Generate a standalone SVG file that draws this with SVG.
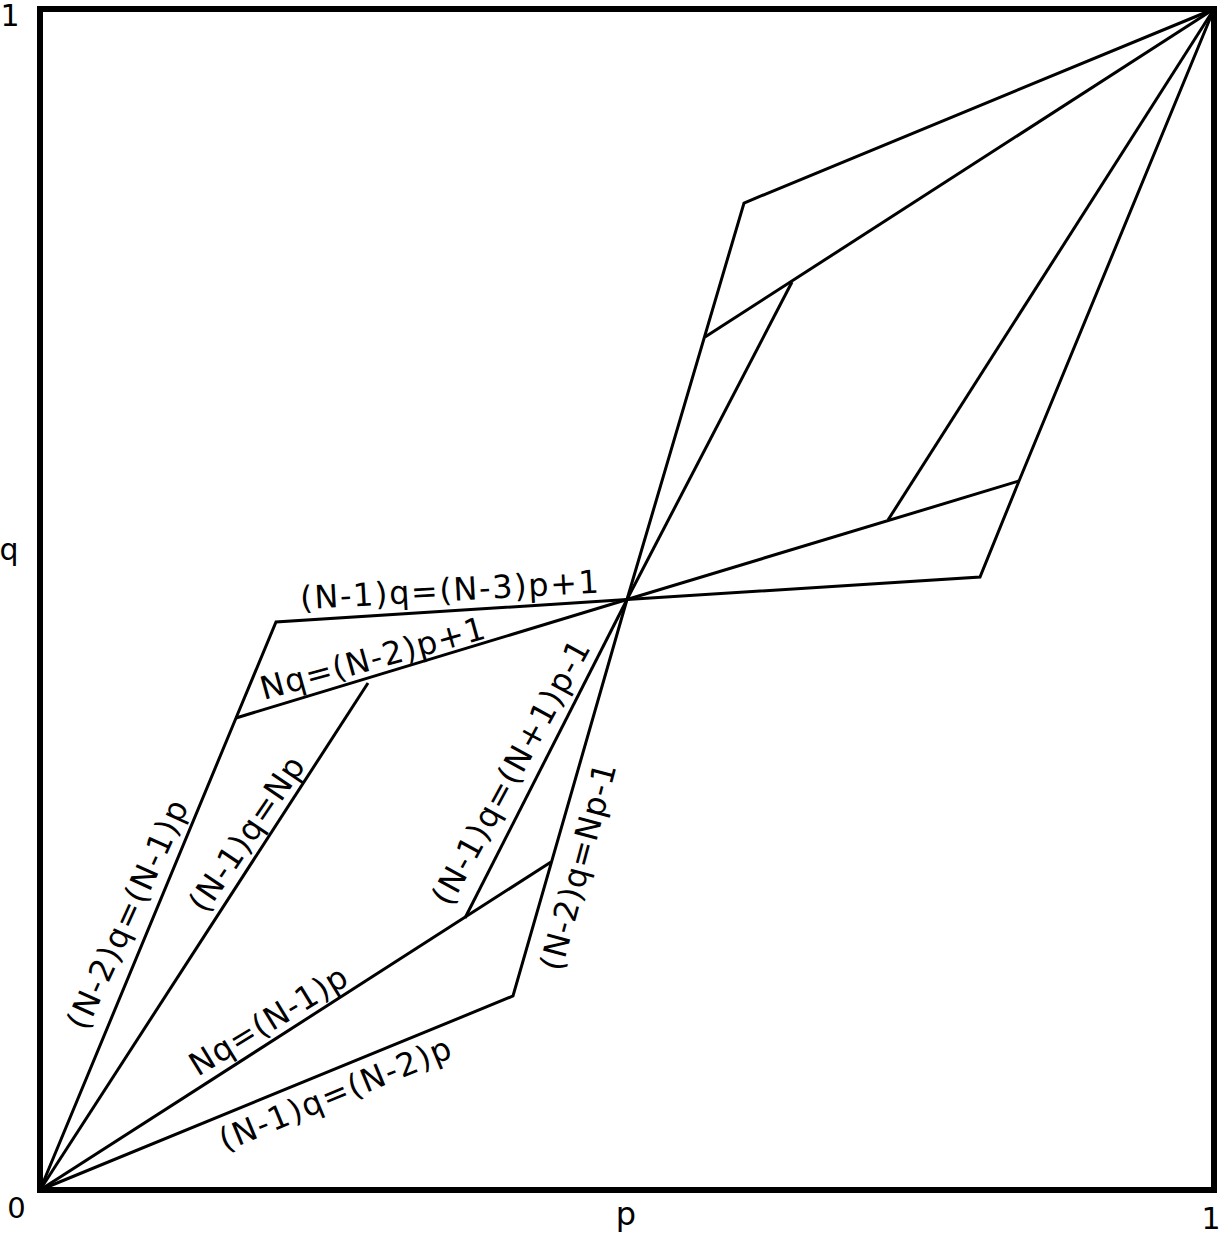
<svg xmlns="http://www.w3.org/2000/svg" width="1222" height="1234" viewBox="0 0 1222 1234">
<style>
.frame{fill:none;stroke:#000;stroke-width:6}
.ln{fill:none;stroke:#000;stroke-width:3;stroke-linejoin:miter}
.lbl{font-family:"DejaVu Sans",sans-serif;font-size:32px;fill:#000;text-anchor:middle;dominant-baseline:central}
.ax{font-family:"DejaVu Sans",sans-serif;fill:#000;text-anchor:middle}
</style>
<rect width="1222" height="1234" fill="#fff"/>
<g id="frame"><rect class="frame" x="40" y="9" width="1174" height="1181"/></g>
<g id="connectors">
<polyline class="ln" points="40,1190 236,718 276,622 627,599.5"/>
<line class="ln" x1="236" y1="718" x2="627" y2="599.5"/>
<line class="ln" x1="40" y1="1190" x2="368" y2="683"/>
<polyline class="ln" points="40,1190 513,996 627,599.5"/>
<line class="ln" x1="40" y1="1190" x2="551" y2="862"/>
<line class="ln" x1="627" y1="599.5" x2="465" y2="918"/>
<polyline class="ln" points="1214,9 744,203 627,599.5"/>
<line class="ln" x1="1214" y1="9" x2="705" y2="337"/>
<line class="ln" x1="792" y1="282" x2="627" y2="599.5"/>
<polyline class="ln" points="1214,9 1019,481 980,577 627,599.5"/>
<line class="ln" x1="1019" y1="481" x2="627" y2="599.5"/>
<line class="ln" x1="1214" y1="9" x2="888" y2="520"/>
</g>
<g id="labels">
<text class="lbl" transform="translate(449.5,590) rotate(-3.2)" textLength="299" lengthAdjust="spacing">(N-1)q=(N-3)p+1</text>
<text class="lbl" transform="translate(372.5,658.5) rotate(-15.5)" textLength="232" lengthAdjust="spacing">Nq=(N-2)p+1</text>
<text class="lbl" transform="translate(127.5,914.5) rotate(-65.5)" textLength="248" lengthAdjust="spacing">(N-2)q=(N-1)p</text>
<text class="lbl" transform="translate(246.7,834) rotate(-56)" textLength="180" lengthAdjust="spacing">(N-1)q=Np</text>
<text class="lbl" transform="translate(511,772.5) rotate(-61.5)" textLength="296" lengthAdjust="spacing">(N-1)q=(N+1)p-1</text>
<text class="lbl" transform="translate(578.3,866.7) rotate(-75)" textLength="213" lengthAdjust="spacing">(N-2)q=Np-1</text>
<text class="lbl" transform="translate(268.3,1020.8) rotate(-31.5)" textLength="179" lengthAdjust="spacing">Nq=(N-1)p</text>
<text class="lbl" transform="translate(335,1094) rotate(-22.5)" textLength="248" lengthAdjust="spacing">(N-1)q=(N-2)p</text>
</g>
<g id="axes">
<text class="ax" x="10" y="26" font-size="30">1</text>
<text class="ax" x="16.5" y="1218" font-size="29">0</text>
<text class="ax" x="1211" y="1229" font-size="30">1</text>
<text class="ax" x="626" y="1225" font-size="32">p</text>
<text class="ax" x="9" y="560" font-size="30">q</text>
</g>
</svg>
